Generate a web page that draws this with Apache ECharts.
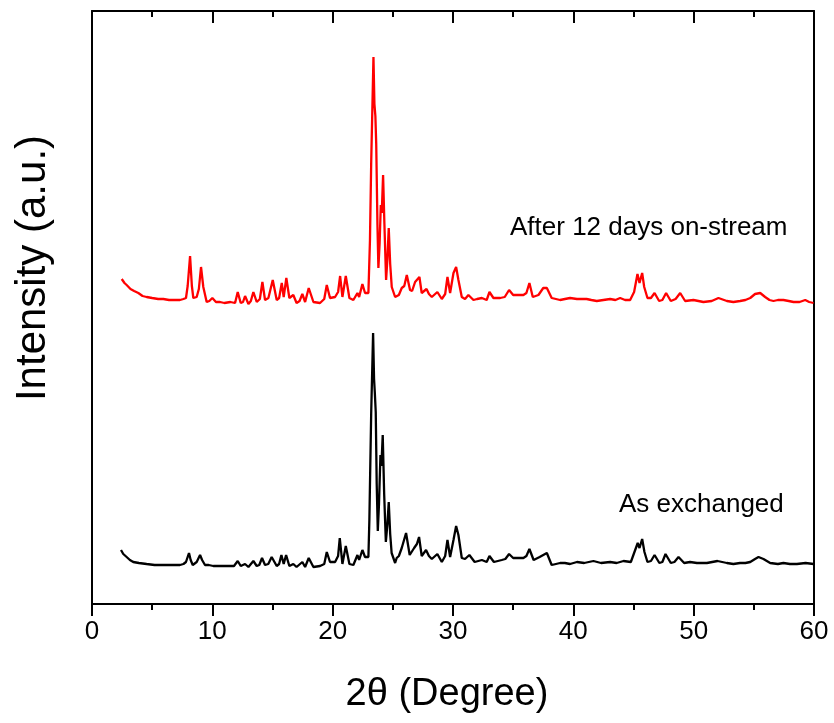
<!DOCTYPE html>
<html>
<head>
<meta charset="utf-8">
<script src="https://cdn.jsdelivr.net/npm/echarts@6/dist/echarts.min.js"></script>
<style>
html,body{margin:0;padding:0;background:#fff;}
#chart{width:834px;height:723px;}
</style>
</head>
<body>
<div id="chart"></div>
<script>
// 2θ (degree) and intensity (a.u., curves offset for display)
const afterStream = [
[2.47,325],[2.7,321],[2.88,319],[3.2,315],[3.5,313],[3.85,311],[4.2,308],[4.54,307],[5.0,306],[5.5,305],
[5.93,305],[6.4,304],[6.9,304],[7.31,304],[7.6,305],[7.81,306],[7.95,318],[8.15,348],[8.3,318],[8.42,306],
[8.7,307],[8.88,315],[9.06,337],[9.25,317],[9.53,302],[9.75,303],[10.0,306],[10.3,302],[10.64,302],[11.0,301],
[11.5,302],[11.89,301],[12.11,312],[12.36,301],[12.55,302],[12.72,308],[13.0,300],[13.2,303],[13.41,312],[13.69,302],
[13.95,305],[14.16,322],[14.38,304],[14.66,306],[15.02,324],[15.35,304],[15.55,306],[15.77,321],[15.93,307],[16.15,326],
[16.4,306],[16.73,309],[17.0,301],[17.25,303],[17.48,310],[17.71,302],[18.01,316],[18.4,302],[18.95,301],[19.3,305],
[19.51,319],[19.78,306],[20.2,307],[20.45,312],[20.62,328],[20.81,307],[21.09,328],[21.39,306],[21.72,304],[22.06,311],
[22.2,307],[22.47,320],[22.69,311],[22.97,311],[23.1,364],[23.2,440],[23.39,547],[23.47,500],[23.55,488],[23.62,460],
[23.72,380],[23.8,336],[23.9,360],[24.0,399],[24.08,391],[24.19,429],[24.3,380],[24.44,324],[24.55,345],[24.66,376],
[24.78,340],[24.91,317],[25.19,307],[25.5,309],[25.74,316],[25.95,318],[26.16,329],[26.43,314],[26.6,313],[26.85,322],
[27.0,320],[27.21,327],[27.4,311],[27.8,315],[28.0,310],[28.24,307],[28.7,312],[29.07,305],[29.35,310],[29.54,327],
[29.76,311],[30.04,331],[30.26,337],[30.45,324],[30.73,307],[31.0,305],[31.28,309],[31.7,304],[32.0,305],[32.4,306],
[32.8,304],[33.03,312],[33.36,306],[33.92,306],[34.3,307],[34.66,314],[35.0,309],[35.3,309],[35.85,309],[36.1,311],
[36.35,321],[36.63,307],[37.1,309],[37.5,316],[37.8,316],[38.2,306],[38.9,304],[39.3,305],[39.73,306],[40.3,305],
[41.1,305],[41.5,304],[41.95,303],[42.5,304],[43.06,305],[43.5,304],[43.89,306],[44.3,304],[44.72,304],[45.05,312],
[45.33,330],[45.5,321],[45.72,331],[45.89,317],[46.16,306],[46.45,306],[46.75,311],[47.13,303],[47.4,304],[47.71,311],
[48.1,303],[48.5,305],[48.88,311],[49.29,303],[49.98,304],[50.4,303],[50.81,302],[51.5,303],[52.06,306],[52.76,303],
[53.3,302],[53.86,303],[54.3,304],[54.7,306],[55.1,310],[55.53,311],[55.94,307],[56.3,304],[56.63,303],[57.0,304],
[57.46,304],[57.9,303],[58.3,302],[58.8,302],[59.27,304],[59.6,302],[59.96,301]
];
const asExchanged = [
[2.41,54],[2.6,50],[2.88,47],[3.15,44],[3.43,42],[3.9,41],[4.54,40],[5.2,39],[5.93,39],[6.6,39],
[7.31,39],[7.6,40],[7.81,42],[8.06,51],[8.2,44],[8.37,39],[8.7,42],[8.98,49],[9.15,44],[9.39,39],
[9.7,39],[10.08,38],[10.8,38],[11.47,38],[11.8,38],[12.11,43],[12.36,38],[12.72,40],[13.0,37],[13.41,43],
[13.69,38],[13.9,39],[14.13,46],[14.38,39],[14.65,40],[14.93,47],[15.35,38],[15.55,40],[15.74,49],[15.93,40],
[16.13,49],[16.4,38],[16.73,40],[17.0,37],[17.48,42],[17.71,37],[18.01,46],[18.4,37],[18.95,38],[19.3,40],
[19.51,52],[19.78,42],[20.2,42],[20.45,48],[20.59,66],[20.81,40],[21.09,58],[21.39,40],[21.72,39],[22.06,49],
[22.2,44],[22.47,54],[22.69,47],[22.97,47],[23.05,84],[23.2,190],[23.36,271],[23.44,225],[23.5,212],[23.58,192],
[23.66,120],[23.75,73],[23.85,100],[23.97,149],[24.05,138],[24.16,169],[24.28,110],[24.42,62],[24.55,80],[24.66,102],
[24.78,70],[24.9,51],[25.19,41],[25.32,46],[25.5,48],[25.74,56],[26.1,71],[26.4,49],[26.77,56],[27.0,60],
[27.18,67],[27.4,48],[27.76,54],[28.0,48],[28.24,45],[28.7,50],[29.07,42],[29.35,48],[29.54,64],[29.76,47],
[30.04,64],[30.26,78],[30.45,69],[30.73,46],[31.0,45],[31.36,49],[31.8,42],[32.4,44],[32.8,42],[33.03,48],
[33.4,42],[34.05,44],[34.35,45],[34.66,50],[35.0,46],[35.3,46],[35.85,46],[36.1,48],[36.35,55],[36.7,44],
[37.2,47],[37.8,51],[38.2,39],[38.9,41],[39.3,41],[39.73,40],[40.3,42],[40.9,41],[41.67,43],[42.3,41],
[43.06,42],[43.6,41],[44.17,43],[44.78,42],[45.05,51],[45.35,61],[45.5,56],[45.72,65],[45.91,52],[46.16,42],
[46.45,43],[46.75,49],[47.15,41],[47.4,42],[47.66,50],[48.1,41],[48.4,42],[48.74,47],[49.21,41],[49.7,42],
[50.27,41],[51.1,41],[51.98,43],[52.76,41],[53.3,40],[53.86,41],[54.3,41],[54.7,42],[55.1,45],[55.39,47],
[55.8,45],[56.36,41],[57.0,40],[57.46,41],[58.0,40],[58.58,40],[59.3,41],[59.96,40]
];
const seriesNames = ['After 12 days on-stream', 'As exchanged'];
const xTitle = '2θ (Degree)';
const yTitle = 'Intensity (a.u.)';

const FONT = "'Liberation Sans', Arial, Helvetica, sans-serif";
const chart = echarts.init(document.getElementById('chart'), null, {renderer: 'canvas'});
const axisLine = {show: true, onZero: false, lineStyle: {color: '#000', width: 2}};
chart.setOption({
  animation: false,
  backgroundColor: '#fff',
  grid: {left: 92, right: 20, top: 11, bottom: 119, containLabel: false},
  xAxis: [{
    type: 'value', min: 0, max: 60, interval: 10, position: 'bottom',
    name: xTitle, nameLocation: 'middle', nameGap: 72,
    nameTextStyle: {fontFamily: FONT, fontSize: 38, color: '#000', padding: [0, 12, 0, 0]},
    axisLine: axisLine,
    axisTick: {show: true, inside: false, length: 12, lineStyle: {color: '#000', width: 2}},
    minorTick: {show: true, splitNumber: 2, length: 6, lineStyle: {color: '#000', width: 2}},
    axisLabel: {fontFamily: FONT, fontSize: 26, color: '#000', margin: 15},
    splitLine: {show: false}
  }, {
    type: 'value', min: 0, max: 60, interval: 10, position: 'top',
    axisLine: axisLine,
    axisTick: {show: true, inside: true, length: 12, lineStyle: {color: '#000', width: 2}},
    minorTick: {show: true, splitNumber: 2, length: 6, lineStyle: {color: '#000', width: 2}},
    axisLabel: {show: false},
    splitLine: {show: false}
  }],
  yAxis: [{
    type: 'value', min: 0, max: 593, position: 'left',
    axisLine: axisLine, axisTick: {show: false}, axisLabel: {show: false}, splitLine: {show: false}
  }, {
    type: 'value', min: 0, max: 593, position: 'right',
    axisLine: axisLine, axisTick: {show: false}, axisLabel: {show: false}, splitLine: {show: false}
  }],
  series: [{
    name: seriesNames[0], type: 'line', data: afterStream, showSymbol: false, symbol: 'none',
    lineStyle: {color: '#ff0000', width: 2.3}, smooth: false, z: 3
  }, {
    name: seriesNames[1], type: 'line', data: asExchanged, showSymbol: false, symbol: 'none',
    lineStyle: {color: '#000000', width: 2.3}, smooth: false, z: 3
  }],
  graphic: [{
    type: 'text', x: 33, y: 268, rotation: Math.PI / 2,
    style: {text: yTitle, font: '42px ' + FONT, fill: '#000', align: 'center', verticalAlign: 'middle'}
  }, {
    type: 'text', left: 510, top: 215,
    style: {text: seriesNames[0], font: '26px ' + FONT, fill: '#000'}
  }, {
    type: 'text', left: 619, top: 492,
    style: {text: seriesNames[1], font: '26px ' + FONT, fill: '#000'}
  }]
});
</script>
</body>
</html>
